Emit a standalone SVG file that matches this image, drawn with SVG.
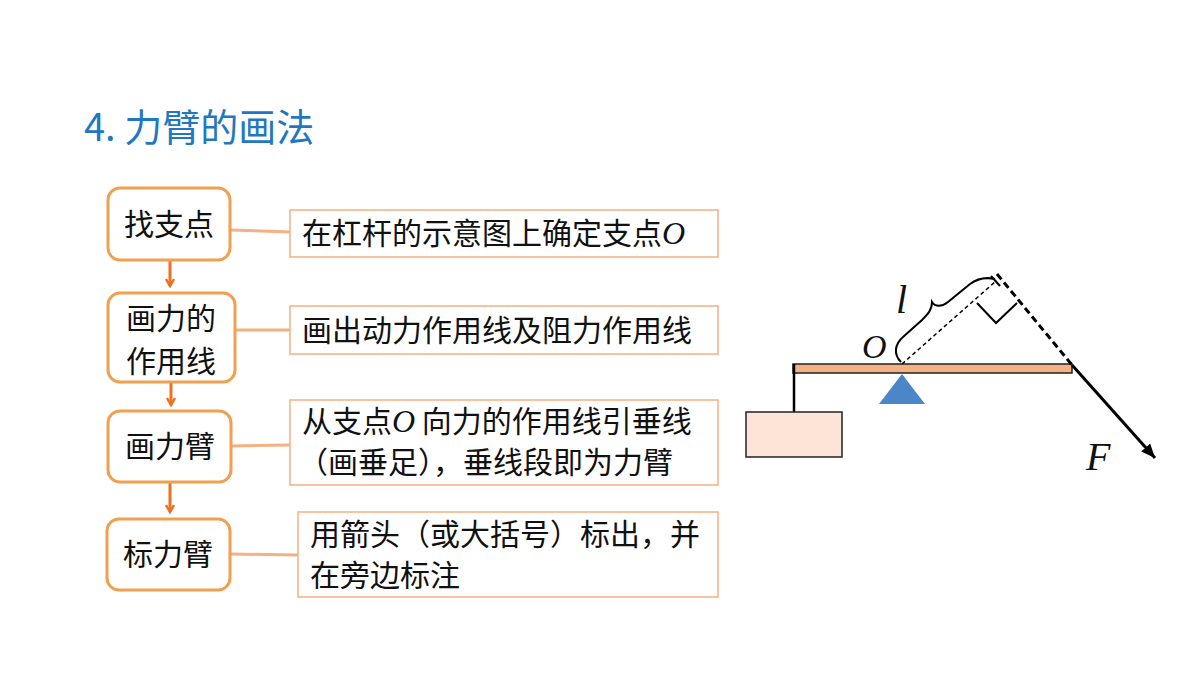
<svg xmlns="http://www.w3.org/2000/svg" width="1200" height="675" viewBox="0 0 1200 675">
<style>
.t{font-family:"Noto Sans CJK SC","Noto Sans",sans-serif;font-size:30px;fill:#111}
.lb{fill:#fff;stroke:#F0A050;stroke-width:3}
.rb{fill:#fff;stroke:#F4B183;stroke-width:1.5}
.ln{stroke:#F4B183;stroke-width:3}
.ar{stroke:#EE7020;stroke-width:3;fill:none}
.it{font-family:"Liberation Serif",serif;font-style:italic;fill:#111}
</style>
<defs><marker id="ah" markerWidth="10" markerHeight="10" refX="8" refY="5" orient="auto" markerUnits="userSpaceOnUse"><path d="M1,1 L8,5 L1,9" fill="none" stroke="#EE7020" stroke-width="2.5"/></marker>
<marker id="fk" markerWidth="16" markerHeight="16" refX="14" refY="8" orient="auto" markerUnits="userSpaceOnUse"><path d="M0,2 L14,8 L0,14 Z" fill="#000"/></marker></defs>
<rect width="1200" height="675" fill="#fff"/>
<text x="84" y="141" style="font-family:'Noto Sans CJK SC',sans-serif;font-size:38px;fill:#1F78C0">4. 力臂的画法</text>
<g id="connectors">
<line class="ln" x1="230" y1="230" x2="290" y2="232"/>
<line class="ln" x1="235" y1="330" x2="290" y2="330"/>
<line class="ln" x1="231" y1="446" x2="290" y2="445"/>
<line class="ln" x1="230" y1="554" x2="298" y2="555"/>
<line class="ar" x1="170" y1="261" x2="170" y2="286" marker-end="url(#ah)"/>
<line class="ar" x1="171" y1="383" x2="171" y2="405" marker-end="url(#ah)"/>
<line class="ar" x1="170" y1="483" x2="170" y2="512" marker-end="url(#ah)"/>
</g>
<g id="n1"><rect class="lb" x="108" y="188" width="122" height="72" rx="12"/><text class="t" x="169" y="235" text-anchor="middle">找支点</text></g>
<g id="n2"><rect class="lb" x="108" y="293" width="127" height="89" rx="12"/><text class="t" x="171" y="329" text-anchor="middle">画力的</text><text class="t" x="171" y="372" text-anchor="middle">作用线</text></g>
<g id="n3"><rect class="lb" x="108" y="411" width="123" height="71" rx="12"/><text class="t" x="170" y="457" text-anchor="middle">画力臂</text></g>
<g id="n4"><rect class="lb" x="107" y="519" width="123" height="71" rx="12"/><text class="t" x="168" y="565" text-anchor="middle">标力臂</text></g>
<g id="d1"><rect class="rb" x="290" y="210" width="428" height="47"/><text class="t" x="302" y="244">在杠杆的示意图上确定支点<tspan class="it" font-size="32">O</tspan></text></g>
<g id="d2"><rect class="rb" x="290" y="306" width="428" height="48"/><text class="t" x="302" y="341">画出动力作用线及阻力作用线</text></g>
<g id="d3"><rect class="rb" x="290" y="400" width="428" height="85"/><text class="t" x="302" y="432">从支点<tspan class="it" font-size="32">O</tspan> 向力的作用线引垂线</text><text class="t" x="298" y="473">（画垂足），垂线段即为力臂</text></g>
<g id="d4"><rect class="rb" x="298" y="512" width="420" height="85"/><text class="t" x="310" y="545">用箭头（或大括号）标出，并</text><text class="t" x="310" y="586">在旁边标注</text></g>
<g id="lever">
<rect x="793" y="364" width="279" height="9" fill="#F4B183" stroke="#222" stroke-width="1.5"/>
<line x1="794" y1="364" x2="794" y2="413" stroke="#000" stroke-width="2.5"/>
<rect x="746" y="412" width="96" height="45" fill="#FCE4D6" stroke="#222" stroke-width="1.5"/>
<polygon points="902,374 879,404 925,404" fill="#4A86C8"/>
<line x1="1072" y1="365" x2="1155" y2="458" stroke="#000" stroke-width="3" marker-end="url(#fk)"/>
<line x1="997" y1="274" x2="1072" y2="365" stroke="#000" stroke-width="3" stroke-dasharray="7,4"/>
<line x1="902" y1="364" x2="996" y2="281" stroke="#000" stroke-width="1.5" stroke-dasharray="4,3"/>
<line x1="991" y1="276" x2="1000" y2="286" stroke="#000" stroke-width="2"/>
<polyline points="977,303 996,323 1017,303" fill="none" stroke="#000" stroke-width="2"/>
<path d="M901,362 C893,354 895,344 903,337 L922,320 C929,313 932,309 932,302 C935,307 942,307 948,302 L970,284 C978,278 986,277 995,279" fill="none" stroke="#000" stroke-width="2"/>
<text class="it" x="896" y="313" font-size="40">l</text>
<text class="it" x="862" y="358" font-size="34">O</text>
<text class="it" x="1086" y="470" font-size="40">F</text>
</g>
</svg>
